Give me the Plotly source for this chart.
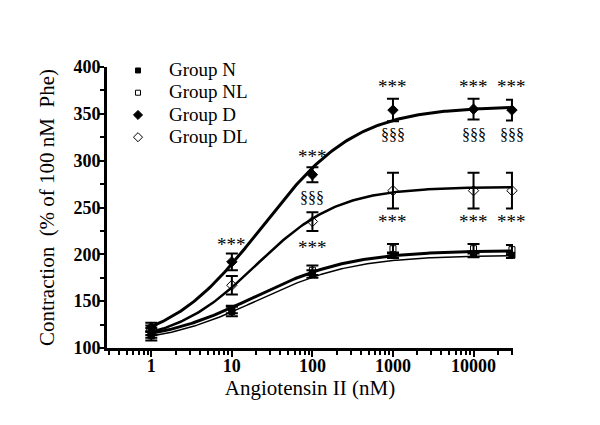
import numpy as np
import plotly.graph_objects as go

conc = [1, 10, 100, 1000, 10000, 30000]

n_mean = [113, 141, 179, 199, 200, 199]
n_err = [5, 4, 4, 3, 3, 3]
nl_mean = [116, 139, 183, 206, 206, 205]
nl_err = [5, 5, 5, 5, 5, 5]
d_mean = [122, 192, 285, 354, 355, 354]
d_err = [5, 9, 8, 12, 11, 11]
dl_mean = [119, 167, 235, 268, 268, 268]
dl_err = [5, 10, 10, 19, 19, 19]

# fitted sigmoid parameters: bottom, top, logEC50, hill
fit_n = (105, 204, 1.28, 0.72)
fit_nl = (103, 199, 1.32, 0.72)
fit_d = (100, 358, 1.37, 0.74)
fit_dl = (105, 272, 1.30, 0.85)

star_x = [10, 100, 1000, 10000, 30000, 100, 1000, 10000, 30000]
star_y = [215, 309, 383, 383, 383, 212, 239, 239, 239]
sect_x = [100, 1000, 10000, 30000]
sect_y = [261, 328, 328, 328]

xfit = np.logspace(np.log10(0.9), np.log10(30000), 200)


def curve(p):
    b, t, le, h = p
    return b + (t - b) / (1 + 10 ** ((le - np.log10(xfit)) * h))


fig = go.Figure()
serif = "Liberation Serif, Times New Roman, serif"

for p, w in [(fit_n, 3), (fit_nl, 1.5), (fit_d, 3), (fit_dl, 2.5)]:
    fig.add_trace(go.Scatter(x=xfit, y=curve(p), mode="lines",
                             line=dict(color="black", width=w), showlegend=False, hoverinfo="skip"))

groups = [
    ("Group N", n_mean, n_err, "square", 6),
    ("Group NL", nl_mean, nl_err, "square-open", 6),
    ("Group D", d_mean, d_err, "diamond", 8),
    ("Group DL", dl_mean, dl_err, "diamond-open", 8),
]
for name, m, e, sym, sz in groups:
    fig.add_trace(go.Scatter(x=conc, y=m, mode="markers", cliponaxis=False,
                             marker=dict(symbol=sym, size=sz, color="black", line=dict(color="black", width=1)),
                             error_y=dict(type="data", array=e, color="black", thickness=2, width=6),
                             showlegend=False))
for name, m, e, sym, sz in groups:
    fig.add_trace(go.Scatter(x=[None], y=[None], mode="markers",
                             name='<span style="font-size:19px">' + name + '</span>',
                             marker=dict(symbol=sym, size=sz - 1, color="black", line=dict(color="black", width=1))))

for x, y in zip(star_x, star_y):
    fig.add_annotation(x=np.log10(x), y=y, text="***", showarrow=False, yshift=-4,
                       font=dict(family=serif, size=19, color="black"))
for x, y in zip(sect_x, sect_y):
    fig.add_annotation(x=np.log10(x), y=y, text="§§§", showarrow=False,
                       font=dict(family=serif, size=16, color="black"))

fig.update_layout(
    width=592, height=417,
    margin=dict(l=99, r=87, t=59, b=77),
    paper_bgcolor="white", plot_bgcolor="white",
    font=dict(family=serif, color="black"),
    legend=dict(x=0.0, y=1.045, xanchor="left", yanchor="top", bgcolor="rgba(0,0,0,0)",
                font=dict(family=serif, size=14.8), itemwidth=52, tracegroupgap=0),
)
fig.update_xaxes(type="log", range=[-0.55, 4.49], showgrid=False, zeroline=False,
                 showline=True, linewidth=3, linecolor="black",
                 tickmode="linear", tick0=0, dtick=1, tickformat="d",
                 ticks="outside", ticklen=6, tickwidth=2, tickcolor="black",
                 tickfont=dict(family=serif, size=18, weight="bold"), ticklabelstandoff=-7,
                 minor=dict(ticks="outside", ticklen=4, tickwidth=2, tickcolor="black", dtick="D1"),
                 title=dict(text="Angiotensin II (nM)", font=dict(family=serif, size=21), standoff=0))
fig.update_yaxes(range=[100, 400], showgrid=False, zeroline=False,
                 showline=True, linewidth=3, linecolor="black",
                 tickmode="linear", tick0=100, dtick=50,
                 ticks="outside", ticklen=6, tickwidth=2, tickcolor="black",
                 tickfont=dict(family=serif, size=18, weight="bold"), ticklabelstandoff=-6,
                 minor=dict(ticks="outside", ticklen=4, tickwidth=2, tickcolor="black", dtick=25),
                 title=dict(text="Contraction  (% of 100 nM  Phe)", font=dict(family=serif, size=21), standoff=14))

fig.write_html("out.html")
